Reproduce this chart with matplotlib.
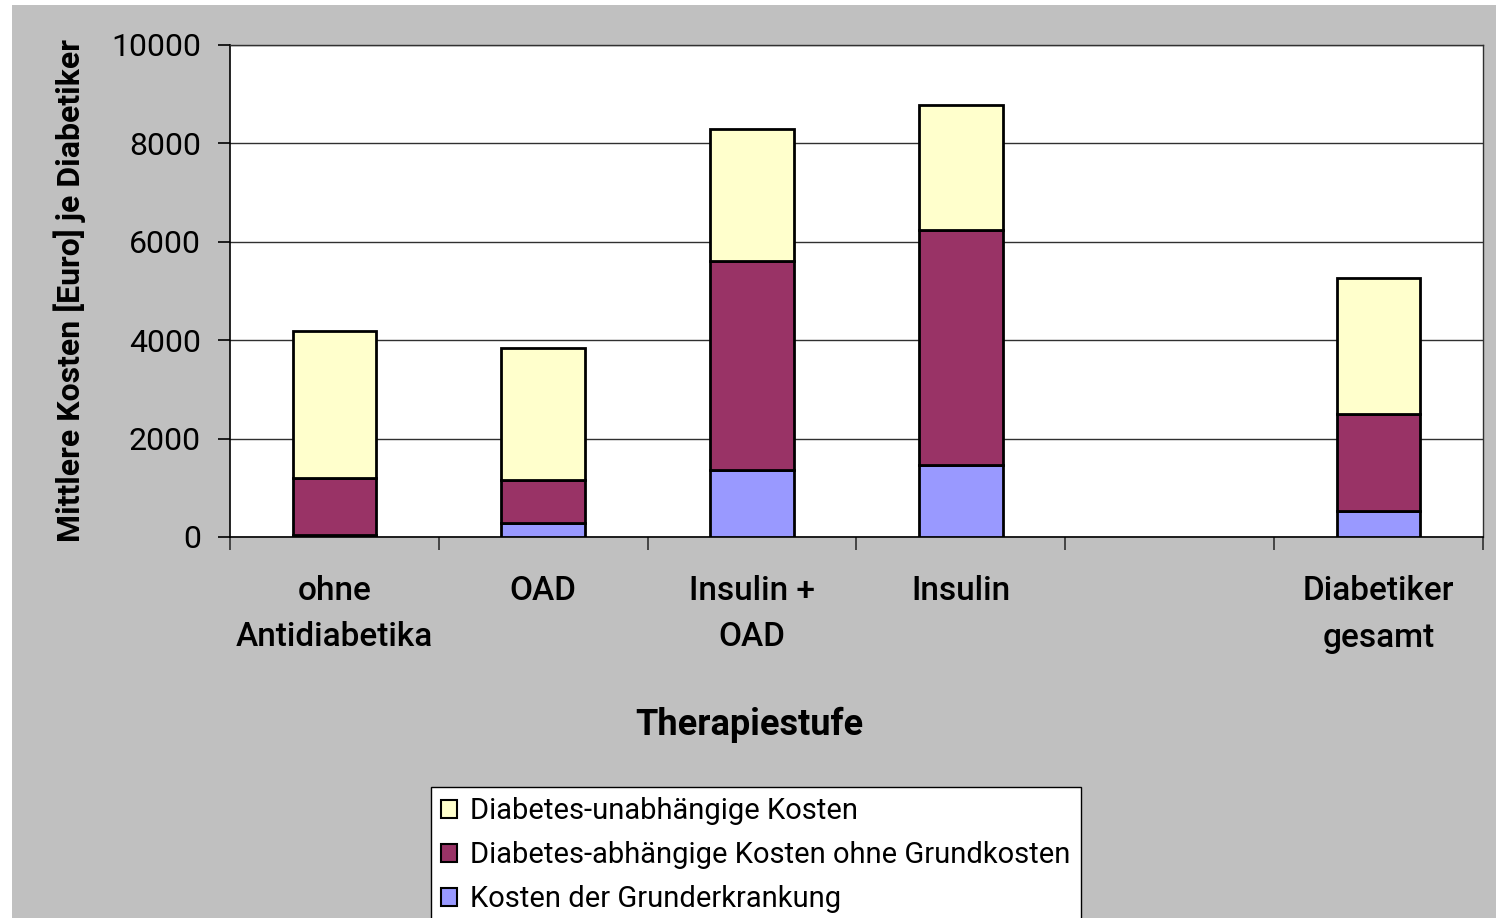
# Mittlere Kosten je Diabetiker nach Therapiestufe (gestapelte Balken)

import matplotlib
matplotlib.use('Agg')
import matplotlib.pyplot as plt
import numpy as np

categories = ['ohne\nAntidiabetika', 'OAD', 'Insulin +\nOAD', 'Insulin', '', 'Diabetiker\ngesamt']
grund = [40, 290, 1360, 1460, 0, 530]
abhaengig = [1160, 870, 4240, 4790, 0, 1960]
unabhaengig = [2990, 2690, 2690, 2540, 0, 2780]

series_names = ['Diabetes-unabhängige Kosten',
                'Diabetes-abhängige Kosten ohne Grundkosten',
                'Kosten der Grunderkrankung']
colors = ['#FFFFCC', '#993366', '#9999FF']

plt.rcParams['font.family'] = ['Roboto', 'DejaVu Sans']

fig = plt.figure(figsize=(14.96, 9.18), dpi=100, facecolor='white')
# graue Diagrammflaeche
fig.patches.append(plt.Rectangle((12 / 1496, 0), 1, 1 - 5 / 918, transform=fig.transFigure,
                                 facecolor='#C0C0C0', edgecolor='none', zorder=-10))

ax = fig.add_axes([230 / 1496, 1 - 537 / 918, (1483 - 230) / 1496, (537 - 45) / 918])
ax.set_facecolor('white')

x = np.arange(len(categories))
mask = np.array([c != '' for c in categories])
w = 0.4
b1 = np.array(grund, dtype=float)
b2 = b1 + np.array(abhaengig)
h_grund = ax.bar(x[mask], np.array(grund)[mask], w, color=colors[2], edgecolor='black', linewidth=2, zorder=3)
h_abh = ax.bar(x[mask], np.array(abhaengig)[mask], w, bottom=b1[mask], color=colors[1],
               edgecolor='black', linewidth=2, zorder=3)
h_unabh = ax.bar(x[mask], np.array(unabhaengig)[mask], w, bottom=b2[mask], color=colors[0],
                 edgecolor='black', linewidth=2, zorder=3)

ax.set_xlim(-0.5, len(categories) - 0.5)
ax.set_ylim(0, 10000)
ax.set_yticks(np.arange(0, 10001, 2000))
ax.yaxis.grid(True, color='#303030', linewidth=1)
ax.set_axisbelow(True)

ax.set_xticks(np.arange(-0.5, len(categories), 1))
ax.set_xticklabels([])
ax.set_xticks(x, minor=True)
ax.set_xticklabels(categories, minor=True, fontsize=24, fontweight='medium', linespacing=1.6, va='top')
ax.tick_params(axis='x', which='major', direction='out', length=9, width=1.2, color='#303030')
ax.tick_params(axis='x', which='minor', length=0, pad=27)
ax.tick_params(axis='y', direction='out', length=9, width=1.2, labelsize=23, pad=12)

for s in ['left', 'bottom']:
    ax.spines[s].set_color('black')
    ax.spines[s].set_linewidth(1.2)
for s in ['top', 'right']:
    ax.spines[s].set_color('#303030')
    ax.spines[s].set_linewidth(1)

ax.set_ylabel('Mittlere Kosten [Euro] je Diabetiker', fontsize=23, fontweight='bold', labelpad=18)
fig.text(749 / 1496, 1 - 725 / 918, 'Therapiestufe', fontsize=26, fontweight='bold', ha='center', va='center')

leg = fig.legend([h_unabh, h_abh, h_grund], series_names, loc='upper left',
                 bbox_to_anchor=(431 / 1496, 1 - 787 / 918), bbox_transform=fig.transFigure,
                 fontsize=21, frameon=True, fancybox=False, framealpha=1, handlelength=0.55,
                 handleheight=0.55, handletextpad=0.45, labelspacing=0.55, borderpad=0.35,
                 borderaxespad=0)
leg.get_frame().set_edgecolor('black')
leg.get_frame().set_linewidth(1)
leg.get_frame().set_facecolor('white')
for p in leg.get_patches():
    p.set_linewidth(1.5)

fig.savefig('out.png', dpi=100, facecolor=fig.get_facecolor())
